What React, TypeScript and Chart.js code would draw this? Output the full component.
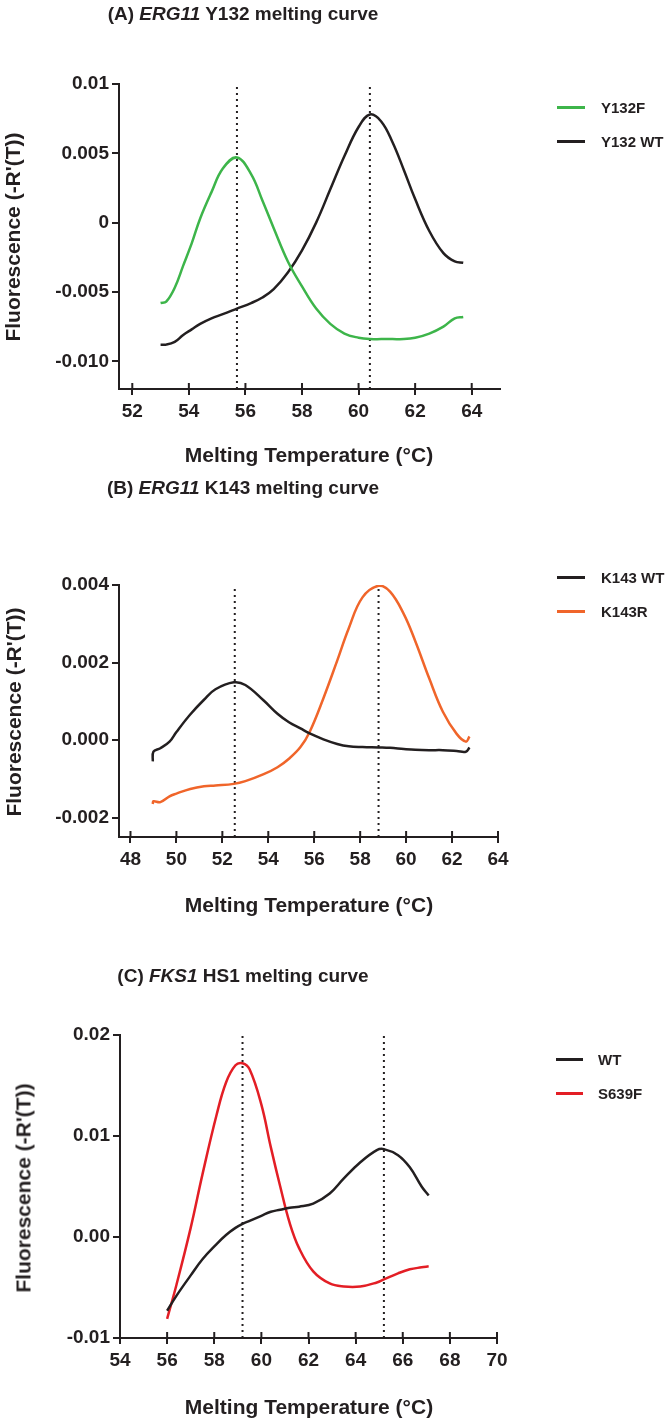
import React, { useEffect, useRef } from "react";
import { Chart, registerables } from "chart.js";

Chart.register(...registerables);

const INK = "#231f20";
const FONT = "'Liberation Sans', Arial, Helvetica, sans-serif";
Chart.defaults.font.family = FONT;

// ---------- Panel A : ERG11 Y132 ----------
const tempsA = [53.0, 53.2, 53.5, 53.8, 54.1, 54.4, 54.8, 55.2, 55.7, 56.2, 56.6, 57.0, 57.5, 58.0, 58.5, 59.0, 59.5, 60.0, 60.4, 60.8, 61.2, 61.6, 62.0, 62.5, 63.0, 63.4, 63.7];
const y132F = [-0.0058, -0.0057, -0.0047, -0.0031, -0.0015, 0.0003, 0.0022, 0.0039, 0.0047, 0.0035, 0.0016, -0.0004, -0.0028, -0.0046, -0.0062, -0.0073, -0.0080, -0.0083, -0.0084, -0.0084, -0.0084, -0.0084, -0.0083, -0.0080, -0.0075, -0.0069, -0.0068];
const y132WT = [-0.0088, -0.0088, -0.0086, -0.0081, -0.0077, -0.0073, -0.0069, -0.0066, -0.0062, -0.0058, -0.0054, -0.0048, -0.0036, -0.0020, 0.0000, 0.0024, 0.0048, 0.0069, 0.0078, 0.0073, 0.0058, 0.0038, 0.0017, -0.0006, -0.0022, -0.0028, -0.0029];
const peaksA = [55.7, 60.4];
const xTicksA = [52, 54, 56, 58, 60, 62, 64];
const yTicksA = [-0.01, -0.005, 0, 0.005, 0.01];
const yLabelsA = ["-0.010", "-0.005", "0", "0.005", "0.01"];

// ---------- Panel B : ERG11 K143 ----------
const tempsB = [48.97, 49.0, 49.3, 49.7, 50.0, 50.6, 51.2, 51.7, 52.5, 53.0, 53.8, 54.4, 54.9, 55.4, 55.8, 56.4, 57.0, 57.5, 58.1, 58.8, 59.3, 59.9, 60.4, 61.0, 61.6, 62.2, 62.6, 62.76];
const k143WT = [-0.00055, -0.0003, -0.00021, -0.00004, 0.00021, 0.00066, 0.00104, 0.00131, 0.00149, 0.00142, 0.00102, 0.00068, 0.00046, 0.0003, 0.00017, 0.00002, -0.0001, -0.00016, -0.00018, -0.00019, -0.0002, -0.00023, -0.00025, -0.00026, -0.00026, -0.00028, -0.0003, -0.00019];
const k143R = [-0.00165, -0.00158, -0.0016, -0.00145, -0.00138, -0.00126, -0.00119, -0.00117, -0.00113, -0.00106, -0.00088, -0.0007, -0.00048, -0.00018, 0.00021, 0.00108, 0.00205, 0.00288, 0.00368, 0.00398, 0.00383, 0.00325, 0.00255, 0.0016, 0.00073, 0.00016, -0.00004, 0.00009];
const peaksB = [52.54, 58.8];
const xTicksB = [48, 50, 52, 54, 56, 58, 60, 62, 64];
const yTicksB = [-0.002, 0, 0.002, 0.004];
const yLabelsB = ["-0.002", "0.000", "0.002", "0.004"];

// ---------- Panel C : FKS1 HS1 ----------
const tempsC = [56.0, 56.4, 57.0, 57.5, 58.1, 58.5, 58.9, 59.2, 59.5, 60.0, 60.4, 60.8, 61.2, 61.6, 62.2, 62.9, 63.5, 64.2, 64.9, 65.2, 65.8, 66.3, 66.8, 67.1];
const hs1WT = [-0.0073, -0.0058, -0.0038, -0.0022, -0.0007, 0.0002, 0.0009, 0.0013, 0.0016, 0.0021, 0.0025, 0.0027, 0.0029, 0.003, 0.0033, 0.0043, 0.0058, 0.0074, 0.0086, 0.0087, 0.0081, 0.0069, 0.005, 0.0041];
const s639F = [-0.0081, -0.0047, 0.0009, 0.0062, 0.0121, 0.0153, 0.017, 0.0172, 0.0166, 0.0131, 0.0089, 0.005, 0.0014, -0.0011, -0.0034, -0.0046, -0.0049, -0.0049, -0.0045, -0.0042, -0.0036, -0.0032, -0.003, -0.0029];
const peaksC = [59.2, 65.2];
const xTicksC = [54, 56, 58, 60, 62, 64, 66, 68, 70];
const yTicksC = [-0.01, 0, 0.01, 0.02];
const yLabelsC = ["-0.01", "0.00", "0.01", "0.02"];

const GREEN = "#3db54a";
const ORANGE = "#f0652a";
const RED = "#e31e25";

type Series = { label: string; color: string; values: number[] };
type Area = { left: number; right: number; top: number; bottom: number };

const XH = 40;

const crossTicks = {
  id: "crossTicks",
  afterDraw(chart: any) {
    const ctx = chart.ctx;
    const xs = chart.scales.x;
    const bottom = chart.chartArea.bottom;
    ctx.save();
    ctx.strokeStyle = INK;
    ctx.lineWidth = 2;
    xs.ticks.forEach((t: any) => {
      const px = xs.getPixelForValue(t.value);
      ctx.beginPath();
      ctx.moveTo(px, bottom);
      ctx.lineTo(px, bottom - 6);
      ctx.stroke();
    });
    ctx.restore();
  },
};

function Panel(props: {
  top: number;
  height: number;
  area: Area;
  xMin: number;
  xMax: number;
  yMin: number;
  yMax: number;
  temps: number[];
  series: Series[];
  peaks: number[];
  xTicks: number[];
  yTicks: number[];
  yLabels: string[];
}) {
  const ref = useRef<HTMLCanvasElement>(null);
  useEffect(() => {
    const p = props;
    const W = 666;
    const datasets: any[] = p.series.map((s) => ({
      label: s.label,
      data: p.temps.map((t, i) => ({ x: t, y: s.values[i] })),
      borderColor: s.color,
      borderWidth: 2.5,
      pointRadius: 0,
      tension: 0.4,
      fill: false,
    }));
    p.peaks.forEach((pk) => {
      datasets.push({
        label: "peak",
        data: [
          { x: pk, y: p.yMin },
          { x: pk, y: p.yMax },
        ],
        borderColor: INK,
        borderWidth: 2,
        borderDash: [2, 4],
        pointRadius: 0,
        tension: 0,
        fill: false,
      });
    });
    const tickFont = { size: 19, weight: "bold" as const, family: FONT };
    const chart = new Chart(ref.current!, {
      type: "line",
      data: { datasets },
      options: {
        animation: false,
        responsive: false,
        maintainAspectRatio: false,
        layout: {
          padding: {
            left: 0,
            top: p.area.top,
            right: W - p.area.right,
            bottom: p.height - p.area.bottom - XH,
          },
        },
        plugins: { legend: { display: false }, tooltip: { enabled: false } },
        scales: {
          x: {
            type: "linear",
            min: p.xMin,
            max: p.xMax,
            afterBuildTicks: (s: any) => {
              s.ticks = p.xTicks.map((v) => ({ value: v }));
            },
            afterFit: (s: any) => {
              s.height = XH;
            },
            grid: { drawOnChartArea: false, drawTicks: true, tickLength: 6, color: INK, lineWidth: 2 },
            border: { display: true, color: INK, width: 2 },
            ticks: {
              color: INK,
              font: tickFont,
              padding: 5,
              maxRotation: 0,
              autoSkip: false,
              callback: (v: any) => String(v),
            },
          },
          y: {
            type: "linear",
            min: p.yMin,
            max: p.yMax,
            afterBuildTicks: (s: any) => {
              s.ticks = p.yTicks.map((v) => ({ value: v }));
            },
            afterFit: (s: any) => {
              s.width = p.area.left;
            },
            grid: { drawOnChartArea: false, drawTicks: true, tickLength: 7, color: INK, lineWidth: 2 },
            border: { display: true, color: INK, width: 2 },
            ticks: {
              color: INK,
              font: tickFont,
              padding: 3,
              autoSkip: false,
              callback: (_v: any, i: number) => p.yLabels[i],
            },
          },
        },
      } as any,
      plugins: [crossTicks],
    });
    return () => chart.destroy();
  }, []);
  return (
    <canvas
      ref={ref}
      width={666}
      height={props.height}
      style={{ position: "absolute", left: 0, top: props.top, display: "block" }}
    />
  );
}

const txt: React.CSSProperties = {
  position: "absolute",
  fontFamily: FONT,
  fontWeight: "bold",
  color: INK,
  lineHeight: 1,
  whiteSpace: "nowrap",
};

function Title(props: { cy: number; children: React.ReactNode }) {
  return (
    <div style={{ ...txt, fontSize: 19, left: 0, width: 486, textAlign: "center", top: props.cy - 9.5 }}>
      {props.children}
    </div>
  );
}

function XTitle(props: { cy: number }) {
  return (
    <div style={{ ...txt, fontSize: 21, left: 309, top: props.cy, transform: "translate(-50%, -50%)" }}>
      Melting Temperature (°C)
    </div>
  );
}

function YTitle(props: { cx: number; cy: number }) {
  return (
    <div
      style={{
        ...txt,
        fontSize: 21,
        left: props.cx,
        top: props.cy,
        transform: "translate(-50%, -50%) rotate(-90deg)",
      }}
    >
      Fluorescence (-R'(T))
    </div>
  );
}

function Legend(props: { items: Series[]; rows: number[]; x0: number; x1: number; tx: number }) {
  return (
    <>
      {props.items.map((s, i) => (
        <React.Fragment key={s.label}>
          <div
            style={{
              position: "absolute",
              left: props.x0,
              width: props.x1 - props.x0,
              top: props.rows[i] - 1.5,
              height: 3,
              background: s.color,
            }}
          />
          <div style={{ ...txt, fontSize: 15, left: props.tx, top: props.rows[i] - 7.5 }}>{s.label}</div>
        </React.Fragment>
      ))}
    </>
  );
}

export default function App() {
  const seriesA: Series[] = [
    { label: "Y132F", color: GREEN, values: y132F },
    { label: "Y132 WT", color: INK, values: y132WT },
  ];
  const seriesB: Series[] = [
    { label: "K143 WT", color: INK, values: k143WT },
    { label: "K143R", color: ORANGE, values: k143R },
  ];
  const seriesC: Series[] = [
    { label: "WT", color: INK, values: hs1WT },
    { label: "S639F", color: RED, values: s639F },
  ];
  return (
    <div style={{ position: "absolute", left: 0, top: 0, width: 666, height: 1420, background: "#fff", overflow: "hidden" }}>
      <Panel
        top={0}
        height={480}
        area={{ left: 119, right: 500, top: 84, bottom: 389 }}
        xMin={51.53}
        xMax={65}
        yMin={-0.012}
        yMax={0.01}
        temps={tempsA}
        series={seriesA}
        peaks={peaksA}
        xTicks={xTicksA}
        yTicks={yTicksA}
        yLabels={yLabelsA}
      />
      <Panel
        top={480}
        height={480}
        area={{ left: 119, right: 498, top: 105, bottom: 357 }}
        xMin={47.5}
        xMax={64}
        yMin={-0.0025}
        yMax={0.004}
        temps={tempsB}
        series={seriesB}
        peaks={peaksB}
        xTicks={xTicksB}
        yTicks={yTicksB}
        yLabels={yLabelsB}
      />
      <Panel
        top={960}
        height={460}
        area={{ left: 120, right: 497, top: 75, bottom: 378 }}
        xMin={54}
        xMax={70}
        yMin={-0.01}
        yMax={0.02}
        temps={tempsC}
        series={seriesC}
        peaks={peaksC}
        xTicks={xTicksC}
        yTicks={yTicksC}
        yLabels={yLabelsC}
      />

      <Title cy={13.5}>
        (A) <i>ERG11</i> Y132 melting curve
      </Title>
      <Title cy={487}>
        (B) <i>ERG11</i> K143 melting curve
      </Title>
      <Title cy={975}>
        (C) <i>FKS1</i> HS1 melting curve
      </Title>

      <XTitle cy={454} />
      <XTitle cy={904} />
      <XTitle cy={1406} />

      <YTitle cx={12} cy={237} />
      <YTitle cx={13} cy={712} />
      <YTitle cx={23} cy={1188} />

      <Legend items={seriesA} rows={[107.7, 141.7]} x0={557} x1={585} tx={601} />
      <Legend items={seriesB} rows={[577.7, 611]} x0={557} x1={585} tx={601} />
      <Legend items={seriesC} rows={[1059.3, 1093.3]} x0={556} x1={583} tx={598} />
    </div>
  );
}
